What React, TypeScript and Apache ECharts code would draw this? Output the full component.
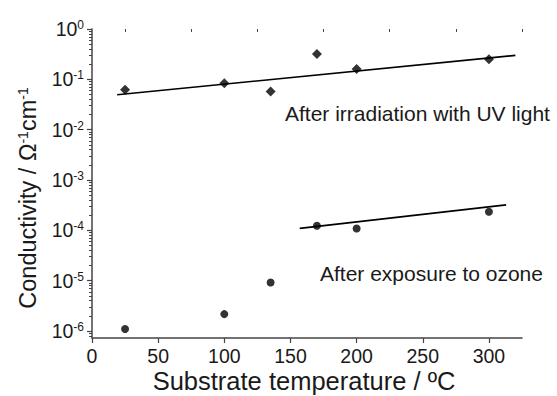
import React, { useEffect, useRef } from "react";
import * as echarts from "echarts";

// ---- data ----
const temperatures = [25, 100, 135, 170, 200, 300];
const uvConductivity = [0.062, 0.084, 0.057, 0.32, 0.16, 0.25];
const ozoneConductivity = [1.09e-6, 2.16e-6, 9.2e-6, 1.23e-4, 1.09e-4, 2.33e-4];
const uvFitX = [19, 320];
const uvFitY = [0.0494, 0.299];
const ozoneFitX = [157, 313];
const ozoneFitY = [1.09e-4, 3.2e-4];
const xMajorTicks = [0, 50, 100, 150, 200, 250, 300];
const xMinorTicks = [25, 75, 125, 175, 225, 275, 325];
const yDecades = [-6, -5, -4, -3, -2, -1, 0];
const yMinorMultipliers = [2, 3, 4, 5, 6, 7, 8, 9];

const FONT = "'Liberation Sans', Arial, Helvetica, sans-serif";
const TEXT = "#1a1a1a";
const AXIS = "#444";

const yMin = -6.14;
const yMax = 0;

const lg = (v: number) => Math.log10(v);

export default function App() {
  const ref = useRef<HTMLDivElement>(null);
  useEffect(() => {
    document.body.style.margin = "0";
    if (!ref.current) return;
    const chart = echarts.init(ref.current, undefined, { renderer: "svg" });

    const yMinor: number[] = [];
    for (let d = -7; d < 0; d++) {
      for (const m of yMinorMultipliers) {
        const v = d + Math.log10(m);
        if (v > yMin && v < yMax) yMinor.push(v);
      }
    }

    const grid = { left: 92, right: 35, top: 29, bottom: 58 };

    chart.setOption({
      animation: false,
      textStyle: { fontFamily: FONT },
      grid,
      xAxis: [
        {
          type: "value",
          min: 0,
          max: 325,
          interval: 50,
          splitLine: { show: false },
          axisLine: { show: true, onZero: false, lineStyle: { color: AXIS, width: 1.5 } },
          axisTick: { show: true, length: 5, customValues: xMajorTicks, lineStyle: { color: AXIS, width: 1.2 } },
          axisLabel: {
            customValues: xMajorTicks,
            color: TEXT,
            fontSize: 19.5,
            margin: 8,
            fontFamily: FONT,
          },
        },
        {
          type: "value",
          min: 0,
          max: 325,
          position: "bottom",
          splitLine: { show: false },
          axisLine: { show: false },
          axisTick: { show: true, length: 3, customValues: xMinorTicks, lineStyle: { color: AXIS, width: 1 } },
          axisLabel: { show: false },
        },
      ],
      yAxis: [
        {
          type: "value",
          min: yMin,
          max: yMax,
          splitLine: { show: false },
          axisLine: { show: true, onZero: false, lineStyle: { color: AXIS, width: 1.5 } },
          axisTick: { show: true, length: 5, customValues: yDecades, lineStyle: { color: AXIS, width: 1.2 } },
          axisLabel: {
            customValues: yDecades,
            margin: 8,
            formatter: (v: number) => `{b|10}{s|${Math.round(v)}}`,
            rich: {
              b: { fontSize: 19.5, color: TEXT, fontFamily: FONT },
              s: { fontSize: 12, color: TEXT, fontFamily: FONT, verticalAlign: "top" },
            },
          },
        },
        {
          type: "value",
          min: yMin,
          max: yMax,
          position: "left",
          splitLine: { show: false },
          axisLine: { show: false },
          axisTick: { show: true, length: 3, customValues: yMinor, lineStyle: { color: AXIS, width: 1 } },
          axisLabel: { show: false },
        },
      ],
      graphic: [
        {
          type: "text",
          x: 28,
          y: 198,
          rotation: Math.PI / 2,
          style: {
            text: "Conductivity / Ω{s|-1}cm{s|-1}",
            fontSize: 23.5,
            fontFamily: FONT,
            fill: TEXT,
            align: "center",
            verticalAlign: "middle",
            rich: {
              s: { fontSize: 14, fontFamily: FONT, fill: TEXT, verticalAlign: "top" },
            },
          },
        },
        {
          type: "text",
          x: 304,
          y: 381,
          style: {
            text: "Substrate temperature / ºC",
            fontSize: 25.5,
            fontFamily: FONT,
            fill: TEXT,
            align: "center",
            verticalAlign: "middle",
          },
        },
        {
          type: "text",
          x: 285,
          y: 113,
          style: {
            text: "After irradiation with UV light",
            fontSize: 21,
            fontFamily: FONT,
            fill: TEXT,
            align: "left",
            verticalAlign: "middle",
          },
        },
        {
          type: "text",
          x: 320,
          y: 273,
          style: {
            text: "After exposure to ozone",
            fontSize: 21,
            fontFamily: FONT,
            fill: TEXT,
            align: "left",
            verticalAlign: "middle",
          },
        },
      ],
      series: [
        {
          name: "UV fit",
          type: "line",
          data: uvFitX.map((x, i) => [x, lg(uvFitY[i])]),
          symbol: "none",
          lineStyle: { color: "#000", width: 1.6 },
          silent: true,
        },
        {
          name: "Ozone fit",
          type: "line",
          data: ozoneFitX.map((x, i) => [x, lg(ozoneFitY[i])]),
          symbol: "none",
          lineStyle: { color: "#000", width: 1.6 },
          silent: true,
        },
        {
          name: "After irradiation with UV light",
          type: "scatter",
          symbol: "diamond",
          symbolSize: 10,
          itemStyle: { color: "#000" },
          data: temperatures.map((t, i) => [t, lg(uvConductivity[i])]),
        },
        {
          name: "After exposure to ozone",
          type: "scatter",
          symbol: "circle",
          symbolSize: 8,
          itemStyle: { color: "#000" },
          data: temperatures.map((t, i) => [t, lg(ozoneConductivity[i])]),
        },
      ],
    });
    return () => chart.dispose();
  }, []);
  return <div ref={ref} style={{ width: 557, height: 396 }} />;
}
